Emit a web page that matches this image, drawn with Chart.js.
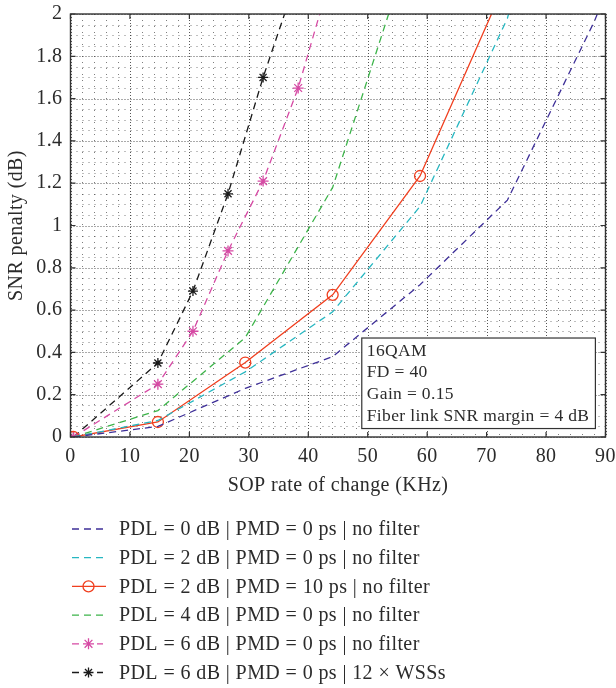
<!DOCTYPE html>
<html>
<head>
<meta charset="utf-8">
<script src="https://cdn.jsdelivr.net/npm/chart.js@4.4.1/dist/chart.umd.min.js"></script>
<style>
  html, body { margin: 0; padding: 0; background: #fff; }
  #wrap { width: 616px; height: 688px; }
</style>
</head>
<body>
<div id="wrap"><canvas id="chart"></canvas></div>
<script>
// SOP rate of change (KHz) sample points
const xCoarse = [0.5, 14.7, 29.4, 44.1, 58.8, 73.5, 88.2, 102.9];
const xFine = [0.5, 14.7, 20.6, 26.5, 32.4, 38.3, 44.2];

// SNR penalty (dB) for each curve (values past 2 dB are clipped by the axis)
const pdl0 = [0, 0.05, 0.23, 0.38, 0.72, 1.12, 1.97, 3.0];
const pdl2 = [0, 0.078, 0.308, 0.592, 1.09, 1.98, 3.5];
const pdl2pmd10 = [0, 0.071, 0.352, 0.672, 1.234, 2.17];
const pdl4 = [0, 0.125, 0.47, 1.18, 2.46];
const pdl6 = [0, 0.25, 0.50, 0.88, 1.21, 1.65, 2.22];
const pdl6wss = [0, 0.35, 0.69, 1.15, 1.70, 2.19];

const seriesLabels = [
  'PDL = 0 dB | PMD = 0 ps | no filter',
  'PDL = 2 dB | PMD = 0 ps | no filter',
  'PDL = 2 dB | PMD = 10 ps | no filter',
  'PDL = 4 dB | PMD = 0 ps | no filter',
  'PDL = 6 dB | PMD = 0 ps | no filter',
  'PDL = 6 dB | PMD = 0 ps | 12 \u00d7 WSSs'
];
const noteLines = ['16QAM', 'FD = 40', 'Gain = 0.15', 'Fiber link SNR margin = 4 dB'];

const FONT = "'Liberation Serif', 'Times New Roman', serif";
const TEXT = '#2b2b2b';
const DASH = [7, 5];

// turn x / y arrays into {x, y} points
const pts = (xs, ys) => ys.map((v, i) => ({ x: xs[i], y: v }));

function series(label, xs, ys, color, opts) {
  return Object.assign({
    label: label,
    data: pts(xs, ys),
    borderColor: color,
    backgroundColor: color,
    borderWidth: 1.3,
    borderDash: DASH,
    tension: 0,
    pointRadius: 0,
    pointStyle: false,
    pointBorderColor: color,
    pointBackgroundColor: 'rgba(0,0,0,0)',
    pointBorderWidth: 1.3
  }, opts || {});
}

const datasets = [
  series(seriesLabels[0], xCoarse, pdl0, '#3e2f98'),
  series(seriesLabels[1], xCoarse, pdl2, '#26b7c1'),
  series(seriesLabels[2], xCoarse, pdl2pmd10, '#f03f1f', { borderDash: [], pointStyle: 'circle', pointRadius: 5.5 }),
  series(seriesLabels[3], xCoarse, pdl4, '#3db44a'),
  series(seriesLabels[4], xFine, pdl6, '#d64aa4', { pointStyle: 'star', pointRadius: 5.5 }),
  series(seriesLabels[5], xFine, pdl6wss, '#1a1a1a', { pointStyle: 'star', pointRadius: 5 })
];

// grid, box frame, inward ticks, text box and legend
const decor = {
  id: 'decor',
  beforeDraw(chart) {
    // slightly wider text, closer to the original typeface
    chart.ctx.letterSpacing = '0.4px';
  },
  beforeDatasetsDraw(chart) {
    const { ctx, chartArea: a, scales: { x, y } } = chart;
    ctx.save();
    ctx.lineWidth = 1;
    const vline = v => { const p = Math.round(x.getPixelForValue(v)) + 0.5; ctx.beginPath(); ctx.moveTo(p, a.top); ctx.lineTo(p, a.bottom); ctx.stroke(); };
    const hline = v => { const p = Math.round(y.getPixelForValue(v)) + 0.5; ctx.beginPath(); ctx.moveTo(a.left, p); ctx.lineTo(a.right, p); ctx.stroke(); };
    // minor grid
    ctx.strokeStyle = 'rgba(40,40,40,0.6)';
    ctx.setLineDash([1, 5]);
    for (let v = 2; v < 90; v += 2) if (v % 10) vline(v);
    for (let i = 1; i < 40; i++) if (i % 4) hline(i * 0.05);
    // major grid
    ctx.strokeStyle = 'rgba(30,30,30,0.75)';
    ctx.setLineDash([1, 2]);
    x.ticks.forEach(t => vline(t.value));
    y.ticks.forEach(t => hline(t.value));
    ctx.restore();
  },
  afterDatasetsDraw(chart) {
    const { ctx, chartArea: a, scales: { x, y } } = chart;
    ctx.save();
    // text box
    const bx0 = x.getPixelForValue(49), bx1 = x.getPixelForValue(88.3);
    const by0 = y.getPixelForValue(0.468), by1 = y.getPixelForValue(0.04);
    ctx.fillStyle = '#fff';
    ctx.fillRect(bx0, by0, bx1 - bx0, by1 - by0);
    ctx.strokeStyle = '#333';
    ctx.lineWidth = 1.2;
    ctx.strokeRect(bx0, by0, bx1 - bx0, by1 - by0);
    ctx.fillStyle = TEXT;
    ctx.font = '17.5px ' + FONT;
    ctx.letterSpacing = '0.35px';
    ctx.textBaseline = 'alphabetic';
    noteLines.forEach((s, i) => ctx.fillText(s, bx0 + 5, by0 + 17.5 + i * 21.7));
    // frame
    ctx.strokeStyle = '#333';
    ctx.lineWidth = 1.4;
    ctx.strokeRect(a.left, a.top, a.right - a.left, a.bottom - a.top);
    // inward ticks on all four sides
    ctx.lineWidth = 1.2;
    ctx.beginPath();
    x.ticks.forEach(t => {
      const p = x.getPixelForValue(t.value);
      ctx.moveTo(p, a.bottom); ctx.lineTo(p, a.bottom - 5);
      ctx.moveTo(p, a.top); ctx.lineTo(p, a.top + 5);
    });
    y.ticks.forEach(t => {
      const p = y.getPixelForValue(t.value);
      ctx.moveTo(a.left, p); ctx.lineTo(a.left + 5, p);
      ctx.moveTo(a.right, p); ctx.lineTo(a.right - 5, p);
    });
    ctx.stroke();
    ctx.restore();
  },
  afterDraw(chart) {
    const ctx = chart.ctx;
    ctx.save();
    ctx.font = '20px ' + FONT;
    ctx.letterSpacing = '0.4px';
    ctx.textBaseline = 'middle';
    chart.data.datasets.forEach((ds, i) => {
      const yy = 529 + i * 28.7;
      ctx.strokeStyle = ds.borderColor;
      ctx.lineWidth = ds.borderWidth;
      ctx.setLineDash(ds.borderDash);
      ctx.beginPath();
      ctx.moveTo(72, yy); ctx.lineTo(106, yy);
      ctx.stroke();
      ctx.setLineDash([]);
      if (ds.pointStyle) {
        if (ds.borderDash.length) { ctx.fillStyle = '#fff'; ctx.fillRect(80, yy - 3, 17, 6); }
        ctx.fillStyle = 'rgba(0,0,0,0)';
        ctx.strokeStyle = ds.pointBorderColor;
        ctx.lineWidth = ds.pointBorderWidth;
        Chart.helpers.drawPoint(ctx, { pointStyle: ds.pointStyle, radius: ds.pointRadius, rotation: 0, borderWidth: ds.pointBorderWidth }, 88.5, yy);
      }
      ctx.fillStyle = TEXT;
      ctx.fillText(ds.label, 119, yy + 1);
    });
    ctx.restore();
  }
};

new Chart(document.getElementById('chart'), {
  type: 'line',
  data: { datasets: datasets },
  plugins: [decor],
  options: {
    responsive: true,
    maintainAspectRatio: false,
    animation: false,
    layout: { padding: { top: 14, right: 10.5, left: 0, bottom: 0 } },
    plugins: { legend: { display: false }, tooltip: { enabled: false } },
    scales: {
      x: {
        type: 'linear', min: 0, max: 90,
        ticks: { stepSize: 10, color: TEXT, font: { family: FONT, size: 20 }, padding: 8, maxRotation: 0 },
        grid: { display: false, drawTicks: false },
        border: { display: false },
        title: { display: true, text: 'SOP rate of change (KHz)', color: TEXT, font: { family: FONT, size: 20 }, padding: { top: 0, bottom: 190 } },
        afterFit: s => { s.height = 251; s.paddingLeft = 0; s.paddingRight = 0; }
      },
      y: {
        min: 0, max: 2,
        ticks: { stepSize: 0.2, color: TEXT, font: { family: FONT, size: 20 }, padding: 8, callback: v => String(+v.toFixed(1)) },
        grid: { display: false, drawTicks: false },
        border: { display: false },
        title: { display: true, text: 'SNR penalty (dB)', color: TEXT, font: { family: FONT, size: 20 }, padding: { top: 5, bottom: 0 } },
        afterFit: s => { s.width = 70.5; s.paddingTop = 0; s.paddingBottom = 0; }
      }
    }
  }
});
</script>
</body>
</html>
